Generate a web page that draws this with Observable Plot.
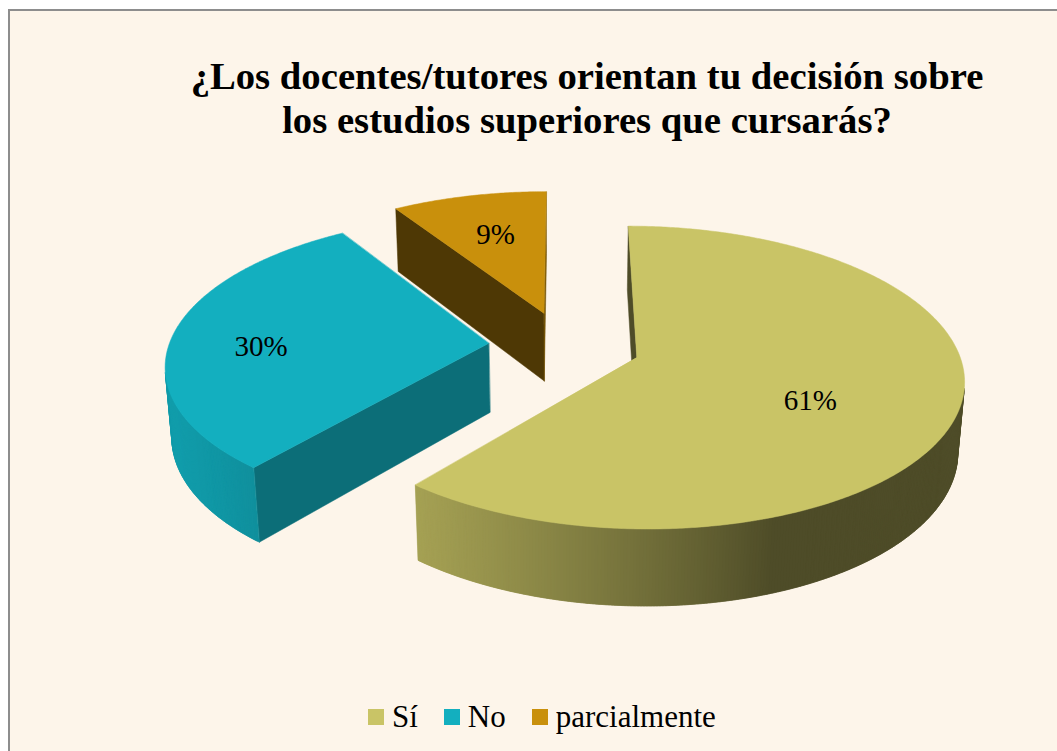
<!DOCTYPE html>
<html>
<head>
<meta charset="utf-8">
<script src="https://cdn.jsdelivr.net/npm/d3@7"></script>
<script src="https://cdn.jsdelivr.net/npm/@observablehq/plot@0.6"></script>
<style>
  html, body { margin: 0; padding: 0; }
  body { width: 1057px; height: 751px; overflow: hidden; position: relative; background: #ffffff;
         font-family: "Liberation Serif", "Tinos", "Times New Roman", serif; }
  #frame { position: absolute; left: 8px; top: 9px; width: 1100px; height: 800px; background: #FDF5EA;
           border-left: 2px solid #8d8d8d; border-top: 2px solid #8d8d8d; }
  #title { position: absolute; left: 137px; width: 900px; top: 54px; text-align: center; font-weight: bold;
           font-size: 38.7px; line-height: 44px; color: #000; white-space: nowrap; margin: 0;
           font-family: "Liberation Serif", "Tinos", "Times New Roman", serif; }
  #chart { position: absolute; left: 0; top: 170px; }
  #legend { position: absolute; left: 368px; top: 699px; display: flex; align-items: center; gap: 26px;
            font-size: 31px; line-height: 36px; color: #000; white-space: nowrap;
            font-family: "Liberation Serif", "Tinos", "Times New Roman", serif; }
  #legend .item { display: flex; align-items: center; }
  #legend .sw { display: inline-block; width: 16px; height: 16px; margin-right: 8px; }
</style>
</head>
<body>
<div id="frame"></div>
<h1 id="title">¿Los docentes/tutores orientan tu decisión sobre<br>los estudios superiores que cursarás?</h1>
<div id="chart"></div>
<div id="legend"></div>
<script>
// ---- data ----
const categories = ["Sí", "No", "parcialmente"];
const values = [61, 30, 9];
const labels = ["61%", "30%", "9%"];
const colors = ["#C9C466", "#13AFBF", "#C9900C"];

// ---- label placement config (fraction of radius, vertical nudge) ----
const labelRadius = [0.55, 0.72, 0.62];
const labelNudge = [15, 10, -3];

// ---- 3D geometry config ----
const W = 1057, H = 520, TOP = 170;
const R = 320, DEPTH = 79, EXPLODE = 76;
const ELEV = Math.asin(0.455);
const DIST = 2157;
const CX = 564, CY = 345 - TOP;
const ce = Math.cos(ELEV), se = Math.sin(ELEV);
const camX = 0, camZ = -DIST * ce;
const SERIF = "'Liberation Serif', Tinos, 'Times New Roman', serif";

function proj(X, Z, Y) {
  const yc = Y * ce + Z * se;
  const zc = Z * ce - Y * se;
  const f = DIST / (DIST + zc);
  return [CX + X * f, CY - yc * f];
}
const rad = d => d * Math.PI / 180;
function shade(col, k) {
  const c = d3.rgb(col);
  return d3.rgb(c.r * k, c.g * k, c.b * k).formatHex();
}
const sideShade = a => 0.39 + 0.5 * Math.max(0, Math.cos(rad(a - 250)));
const cutShade = a => 0.39 + 0.24 * Math.max(0, Math.cos(rad(a - 130)));

const total = d3.sum(values);
let cum = 0;
const slices = values.map((v, i) => {
  const a0 = cum / total * 360; cum += v; const a1 = cum / total * 360;
  const mid = (a0 + a1) / 2;
  const ox = EXPLODE * Math.sin(rad(mid)), oz = EXPLODE * Math.cos(rad(mid));
  return {i, a0, a1, mid, ox, oz};
});

const polys = [];
const labelData = [];
let pid = 0;
function addPoly(pts, fill) {
  const id = pid++;
  pts.forEach(([x, y]) => polys.push({id, x, y, fill}));
}

[...slices].sort((p, q) => q.oz - p.oz).forEach(s => {
  const col = colors[s.i];
  const rim = (a, Y) => proj(s.ox + R * Math.sin(rad(a)), s.oz + R * Math.cos(rad(a)), Y);
  const ctr = Y => proj(s.ox, s.oz, Y);
  // radial cut faces
  [[s.a0, -1], [s.a1, 1]].forEach(([a, sgn]) => {
    const nx = sgn * Math.cos(rad(a)), nz = -sgn * Math.sin(rad(a));
    const vis = nx * (camX - s.ox) + nz * (camZ - s.oz);
    if (vis > 0) {
      const nAng = (Math.atan2(nx, nz) * 180 / Math.PI + 360) % 360;
      addPoly([ctr(0), rim(a, 0), rim(a, -DEPTH), ctr(-DEPTH)], shade(col, cutShade(nAng)));
    }
  });
  // curved outer side (fine segments, slightly overlapping)
  const n = Math.max(2, Math.ceil((s.a1 - s.a0) / 0.5));
  const step = (s.a1 - s.a0) / n;
  for (let k = 0; k < n; k++) {
    const a = s.a0 + step * k;
    const b = Math.min(s.a1, a + step * 1.8);
    const m = a + step / 2;
    const nx = Math.sin(rad(m)), nz = Math.cos(rad(m));
    const px = s.ox + R * nx, pz = s.oz + R * nz;
    if (nx * (camX - px) + nz * (camZ - pz) > 0) {
      addPoly([rim(a, 0), rim(b, 0), rim(b, -DEPTH), rim(a, -DEPTH)], shade(col, sideShade(m)));
    }
  }
  // top face
  const top = [ctr(0)];
  for (let k = 0; k <= n; k++) top.push(rim(s.a0 + step * k, 0));
  addPoly(top, col);
  // label
  const lr = labelRadius[s.i] * R;
  const [lx, ly] = proj(s.ox + lr * Math.sin(rad(s.mid)), s.oz + lr * Math.cos(rad(s.mid)), 0);
  labelData.push({x: lx, y: ly + labelNudge[s.i], label: labels[s.i]});
});

const chart = Plot.plot({
  width: W, height: H, margin: 0,
  x: {domain: [0, W], range: [0, W], axis: null},
  y: {domain: [0, H], range: [0, H], axis: null},
  color: {type: "identity"},
  style: {background: "transparent", overflow: "visible", fontFamily: SERIF},
  marks: [
    Plot.line(polys, {x: "x", y: "y", z: "id", fill: "fill", stroke: "fill", strokeWidth: 0.5, curve: "linear-closed"}),
    Plot.text(labelData, {x: "x", y: "y", text: "label", fontSize: 29, fontFamily: SERIF, fill: "#000"})
  ]
});
document.getElementById("chart").appendChild(chart);

// legend
const leg = document.getElementById("legend");
categories.forEach((c, i) => {
  const item = document.createElement("span");
  item.className = "item";
  const sw = document.createElement("span");
  sw.className = "sw";
  sw.style.background = colors[i];
  item.appendChild(sw);
  item.appendChild(document.createTextNode(c));
  leg.appendChild(item);
});
</script>
</body>
</html>
